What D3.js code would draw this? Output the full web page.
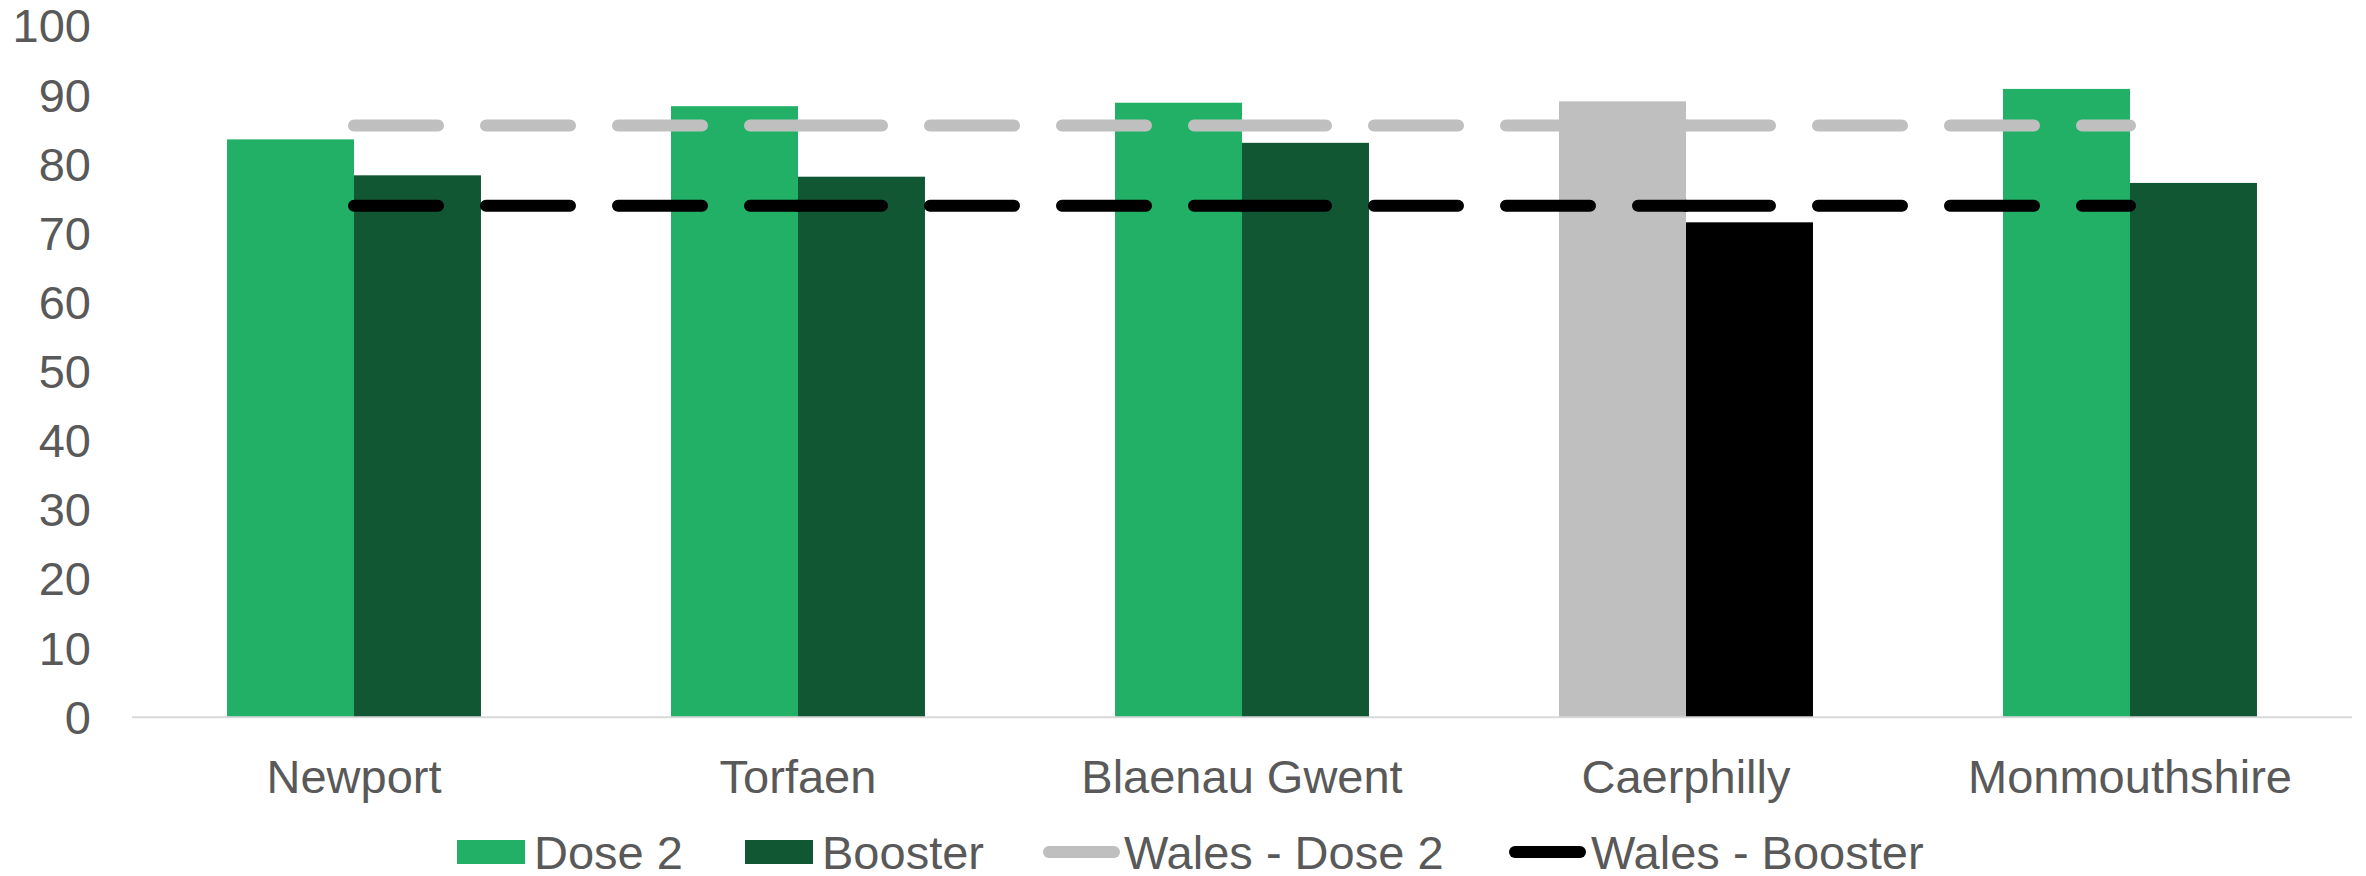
<!DOCTYPE html>
<html>
<head>
<meta charset="utf-8">
<script src="https://cdn.jsdelivr.net/npm/d3@7"></script>
<style>
  html, body { margin: 0; padding: 0; background: #fff; }
  svg { display: block; }
  text { font-family: Arial, "Liberation Sans", sans-serif; fill: #595959; }
</style>
</head>
<body>
<svg id="chart" width="2366" height="876"></svg>
<script>
const categories = ["Newport", "Torfaen", "Blaenau Gwent", "Caerphilly", "Monmouthshire"];
const dose2 = [83.6, 88.4, 88.9, 89.1, 90.9];
const booster = [78.4, 78.2, 83.1, 71.6, 77.3];
const walesDose2 = [85.6, 85.6, 85.6, 85.6, 85.6];
const walesBooster = [74.0, 74.0, 74.0, 74.0, 74.0];
const yTicks = [0, 10, 20, 30, 40, 50, 60, 70, 80, 90, 100];
const highlight = "Caerphilly";
const legendLabels = ["Dose 2", "Booster", "Wales - Dose 2", "Wales - Booster"];

const colors = {
  dose2: "#21B065", booster: "#125733", walesDose2: "#BFBFBF", walesBooster: "#000000",
  hiDose2: "#BFBFBF", hiBooster: "#000000"
};

const svg = d3.select("#chart");
const plotLeft = 132, plotRight = 2352, plotTop = 26, plotBottom = 717.3;

const x = d3.scaleBand().domain(categories).range([plotLeft, plotRight]).paddingInner(0.428).paddingOuter(0.214);
const xs = d3.scaleBand().domain(["dose2", "booster"]).range([0, x.bandwidth()]);
const y = d3.scaleLinear().domain([0, 100]).range([plotBottom, plotTop]);

// y tick labels
svg.append("g").selectAll("text").data(yTicks).join("text")
  .attr("x", 91).attr("y", d => y(d)).attr("dy", "0.35em")
  .attr("text-anchor", "end").style("font-size", "47px").text(d => d);

// bars
const groups = svg.append("g").selectAll("g").data(categories).join("g")
  .attr("transform", d => `translate(${x(d)},0)`);
groups.append("rect")
  .attr("x", xs("dose2")).attr("width", xs.bandwidth())
  .attr("y", (d, i) => y(dose2[i])).attr("height", (d, i) => y(0) - y(dose2[i]))
  .attr("fill", d => d === highlight ? colors.hiDose2 : colors.dose2);
groups.append("rect")
  .attr("x", xs("booster")).attr("width", xs.bandwidth())
  .attr("y", (d, i) => y(booster[i])).attr("height", (d, i) => y(0) - y(booster[i]))
  .attr("fill", d => d === highlight ? colors.hiBooster : colors.booster);

// axis baseline
svg.append("line").attr("x1", plotLeft).attr("x2", plotRight).attr("y1", y(0)).attr("y2", y(0))
  .attr("stroke", "#D9D9D9").attr("stroke-width", 2);

// category labels
svg.append("g").selectAll("text").data(categories).join("text")
  .attr("x", d => x(d) + x.bandwidth() / 2).attr("y", 793)
  .attr("text-anchor", "middle").style("font-size", "47px").text(d => d);

// dashed Wales lines, segment by segment (dash pattern restarts each segment)
const line = d3.line().x(d => d[0]).y(d => d[1]);
function drawDashed(vals, color) {
  const pts = categories.map((c, i) => [x(c) + x.bandwidth() / 2, y(vals[i])]);
  const g = svg.append("g");
  for (let i = 0; i < pts.length - 1; i++) {
    g.append("path").attr("d", line([pts[i], pts[i + 1]]))
      .attr("fill", "none").attr("stroke", color).attr("stroke-width", 12)
      .attr("stroke-linecap", "round").attr("stroke-dasharray", "84,48");
  }
}
drawDashed(walesDose2, colors.walesDose2);
drawDashed(walesBooster, colors.walesBooster);

// legend
const legend = svg.append("g");
const legendItems = [
  { label: legendLabels[0], type: "rect", color: colors.dose2, sx: 457, tx: 534 },
  { label: legendLabels[1], type: "rect", color: colors.booster, sx: 745, tx: 822 },
  { label: legendLabels[2], type: "line", color: colors.walesDose2, sx: 1043, tx: 1124 },
  { label: legendLabels[3], type: "line", color: colors.walesBooster, sx: 1509, tx: 1591 }
];
legendItems.forEach(it => {
  if (it.type === "rect") {
    legend.append("rect").attr("x", it.sx).attr("y", 840).attr("width", 68).attr("height", 24).attr("fill", it.color);
  } else {
    legend.append("line").attr("x1", it.sx + 6).attr("x2", it.sx + 71).attr("y1", 852).attr("y2", 852)
      .attr("stroke", it.color).attr("stroke-width", 12).attr("stroke-linecap", "round");
  }
  legend.append("text").attr("x", it.tx).attr("y", 869).style("font-size", "47px").text(it.label);
});
</script>
</body>
</html>
